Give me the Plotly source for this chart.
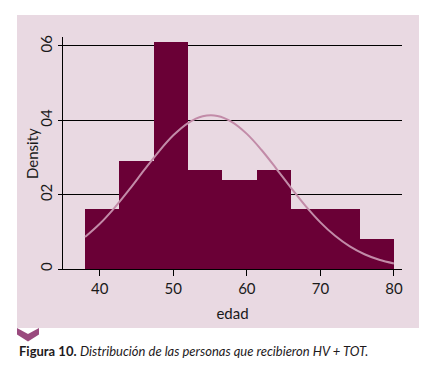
import plotly.graph_objects as go

# ---- data ----
bin_edges = [38.0, 42.667, 47.333, 52.0, 56.667, 61.333, 66.0, 70.667, 75.333, 80.0]
density = [0.0161, 0.0290, 0.0611, 0.0266, 0.0239, 0.0266, 0.0161, 0.0161, 0.0081]

curve_x = [38, 40, 42, 44, 46, 48, 50, 52, 54, 56, 58, 60, 62, 64, 66, 68, 70, 72, 74, 76, 78, 80]
curve_y = [0.00860, 0.01215, 0.01645, 0.02133, 0.02650, 0.03153, 0.03595, 0.03926, 0.04107,
           0.04116, 0.03951, 0.03634, 0.03201, 0.02702, 0.02184, 0.01691, 0.01255, 0.00892,
           0.00607, 0.00396, 0.00247, 0.00148]

x_ticks = [40, 50, 60, 70, 80]
y_ticks = [0, 0.02, 0.04, 0.06]
y_ticklabels = ["0", "02", "04", "06"]

x_title = "edad"
y_title = "Density"
caption = "<b>Figura 10.</b> <i>Distribución de las personas que recibieron HV + TOT.</i>"

# ---- styling ----
BAR = "#6a0036"
PANEL = "#e9d9e2"
CURVE = "#c28ba8"
FONT = "Lato"

W, H = 434, 375
L, R, T, B = 63, 32, 37, 106
pw, ph = W - L - R, H - T - B


def px(x):
    return (x - L) / pw


def py(y):
    return (H - B - y) / ph


centers = [(a + b) / 2 for a, b in zip(bin_edges[:-1], bin_edges[1:])]
widths = [b - a for a, b in zip(bin_edges[:-1], bin_edges[1:])]

fig = go.Figure()
fig.add_trace(go.Bar(x=centers, y=density, width=widths, marker=dict(color=BAR, line=dict(width=0)),
                     showlegend=False, hoverinfo="skip"))
fig.add_trace(go.Scatter(x=curve_x, y=curve_y, mode="lines", line=dict(color=CURVE, width=2, shape="spline"),
                         showlegend=False, hoverinfo="skip"))

# background panel
fig.add_shape(type="rect", xref="paper", yref="paper", x0=px(17), x1=px(419), y0=py(328), y1=py(15),
              fillcolor=PANEL, line=dict(width=0), layer="below")
# chevron
pts = [(17, 328), (28, 334), (39, 328), (39, 334.5), (28, 341.5), (17, 334.5)]
path = "M " + " L ".join(f"{px(a):.5f},{py(b):.5f}" for a, b in pts) + " Z"
fig.add_shape(type="path", xref="paper", yref="paper", path=path, fillcolor="#9a4a7e",
              line=dict(width=0), layer="above")

fig.add_annotation(text=caption, xref="paper", yref="paper", x=px(17), y=py(351), xanchor="left",
                   yanchor="middle", showarrow=False, font=dict(family=FONT, size=13, color="#1e1a1c"))

# y-axis title
fig.add_annotation(text=y_title, xref="paper", yref="paper", x=px(32), y=py(154), xanchor="center",
                   yanchor="middle", textangle=-90, showarrow=False, font=dict(family=FONT, size=15, color="#1a1a1a"))

fig.update_layout(
    width=W, height=H,
    margin=dict(l=L, r=R, t=T, b=B, autoexpand=False),
    paper_bgcolor="white",
    plot_bgcolor=PANEL,
    bargap=0,
    font=dict(family=FONT, size=15, color="#1a1a1a"),
    xaxis=dict(range=[35, 81.1], tickvals=x_ticks, ticks="outside", ticklen=6, tickcolor="black",
               showline=True, linecolor="black", linewidth=1.3, showgrid=False, zeroline=False,
               automargin=False,
               title=dict(text=x_title, font=dict(size=15), standoff=12),
               tickfont=dict(size=15)),
    yaxis=dict(range=[0, 0.0624], tickvals=y_ticks, ticktext=y_ticklabels, tickangle=-90,
               ticks="outside", ticklen=4, tickcolor="black",
               showline=True, linecolor="black", linewidth=1.3, automargin=False,
               showgrid=True, gridcolor="black", gridwidth=1.3, zeroline=False,
               tickfont=dict(size=15)),
)

fig.write_html("out.html", config={"displayModeBar": False},
               post_script="document.body.style.margin='0';document.body.style.overflow='hidden';")
